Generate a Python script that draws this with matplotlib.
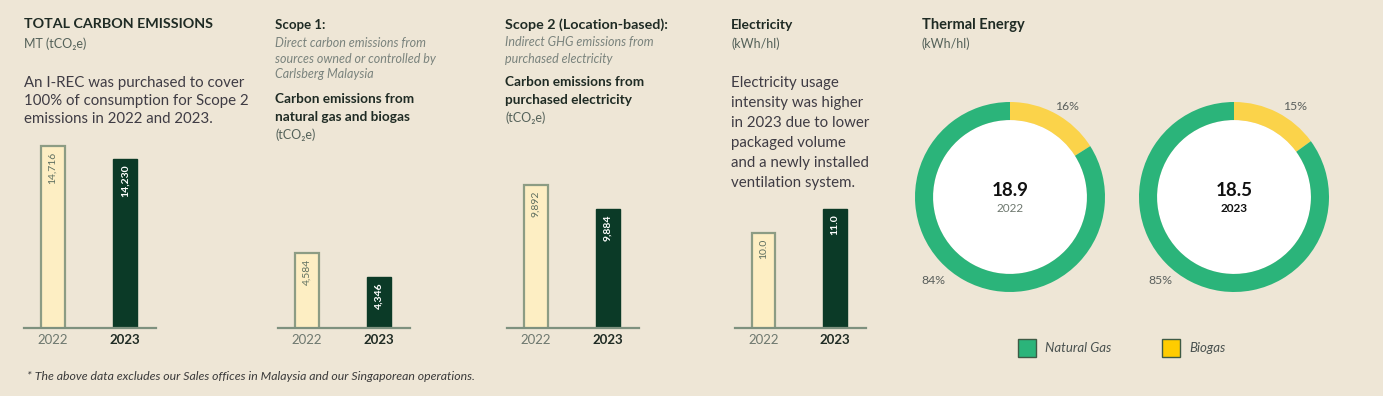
import matplotlib
matplotlib.use("Agg")
import matplotlib.pyplot as plt
from matplotlib.patches import Rectangle, Circle

plt.rcParams['font.family'] = ['Lato', 'DejaVu Sans']

W, H = 1390, 396
BG = '#EEE6D6'

# ---------------- data ----------------
years = ['2022', '2023']
total_emissions = [14716, 14230]
scope1_emissions = [4584, 4346]
scope2_emissions = [9892, 9884]
electricity_intensity = [10.0, 11.0]
total_labels = ['14,716', '14,230']
scope1_labels = ['4,584', '4,346']
scope2_labels = ['9,892', '9,884']
elec_labels = ['10.0', '11.0']

thermal_values = [18.9, 18.5]
thermal_years = ['2022', '2023']
biogas_share = [16, 15]
natural_gas_share = [84, 85]
fuel_names = ['Natural Gas', 'Biogas']

# ---------------- style ----------------
C_LIGHT = '#FDEEC3'
C_LIGHT_EDGE = '#8C9C84'
C_DARK = '#0B3A27'
C_BASE = '#7E917F'
C_GREEN = '#2BB47A'
C_YELLOW = '#FBD34A'
C_HEAD = '#1F2B24'
C_SUB = '#55625A'
C_BODY = '#3F3C44'
C_ITAL = '#7A837D'
C_YEAR = '#6E786F'

fig = plt.figure(figsize=(W / 100, H / 100), dpi=100)
fig.patch.set_facecolor(BG)


def fx(x):
    return x / W


def fy(y):
    return 1 - y / H


def txt(x, y, s, size=9, color=C_BODY, weight='normal', style='normal', ha='left'):
    fig.text(fx(x), fy(y), s, fontsize=size, color=color, weight=weight,
             style=style, ha=ha, va='center')


# ---------------- bar panels ----------------
def bar_panel(x0, x1, values, labels, ylim):
    base_y, top_y = 328, 140
    ax = fig.add_axes([fx(x0), fy(base_y), fx(x1) - fx(x0), (base_y - top_y) / H])
    ax.set_facecolor('none')
    pos = [0, 1]
    ax.bar(pos[0], values[0], width=0.33, color=C_LIGHT, edgecolor=C_LIGHT_EDGE,
           linewidth=1.6, zorder=2)
    ax.bar(pos[1], values[1], width=0.33, color=C_DARK, edgecolor=C_DARK,
           linewidth=1.0, zorder=2)
    ax.set_xlim(-0.4, 1.43)
    ax.set_ylim(*ylim)
    for s in ['top', 'right', 'left']:
        ax.spines[s].set_visible(False)
    ax.spines['bottom'].set_color(C_BASE)
    ax.spines['bottom'].set_linewidth(1.6)
    ax.spines['bottom'].set_zorder(3)
    ax.set_yticks([])
    ax.set_xticks(pos)
    ax.set_xticklabels(years)
    ax.tick_params(axis='x', length=0, pad=4, labelsize=9.5)
    tl = ax.get_xticklabels()
    tl[0].set_color(C_YEAR)
    tl[1].set_color(C_HEAD)
    tl[1].set_fontweight('bold')
    span = ylim[1] - ylim[0]
    ax.text(pos[0], values[0] - span * 0.03, labels[0], rotation=90, ha='center',
            va='top', fontsize=7.5, color='#5E6F60', zorder=4)
    ax.text(pos[1], values[1] - span * 0.03, labels[1], rotation=90, ha='center',
            va='top', fontsize=7.5, color='white', weight='bold', zorder=4)
    return ax


bar_panel(24, 156, total_emissions, total_labels, (7898, 14941))
bar_panel(278, 410, scope1_emissions, scope1_labels, (3842, 5701))
bar_panel(507, 639, scope2_emissions, scope2_labels, (9844.4, 9907.0))
bar_panel(735, 866, electricity_intensity, elec_labels, (6.05, 13.86))

# ---------------- text blocks ----------------
txt(24, 24, 'TOTAL CARBON EMISSIONS', 10.3, C_HEAD, 'bold')
txt(24, 44, 'MT (tCO₂e)', 9, C_SUB)
txt(24, 83, 'An I-REC was purchased to cover', 10.8, C_BODY)
txt(24, 101, '100% of consumption for Scope 2', 10.8, C_BODY)
txt(24, 119, 'emissions in 2022 and 2023.', 10.8, C_BODY)

txt(275, 25, 'Scope 1:', 9.5, C_HEAD, 'bold')
txt(275, 43, 'Direct carbon emissions from', 9, C_ITAL, style='italic')
txt(275, 59, 'sources owned or controlled by', 9, C_ITAL, style='italic')
txt(275, 74, 'Carlsberg Malaysia', 9, C_ITAL, style='italic')
txt(275, 99, 'Carbon emissions from', 9.8, C_HEAD, 'bold')
txt(275, 117, 'natural gas and biogas', 9.8, C_HEAD, 'bold')
txt(275, 135, '(tCO₂e)', 9, C_SUB)

txt(505, 25, 'Scope 2 (Location-based):', 10.3, C_HEAD, 'bold')
txt(505, 42, 'Indirect GHG emissions from', 9, C_ITAL, style='italic')
txt(505, 59, 'purchased electricity', 9, C_ITAL, style='italic')
txt(505, 82, 'Carbon emissions from', 9.8, C_HEAD, 'bold')
txt(505, 100, 'purchased electricity', 9.8, C_HEAD, 'bold')
txt(505, 118, '(tCO₂e)', 9, C_SUB)

txt(731, 25, 'Electricity', 10, C_HEAD, 'bold')
txt(731, 44, '(kWh/hl)', 9, C_SUB)
para = ['Electricity usage', 'intensity was higher', 'in 2023 due to lower',
        'packaged volume', 'and a newly installed', 'ventilation system.']
for i, line in enumerate(para):
    txt(731, 83 + 20 * i, line, 10.8, C_BODY)

txt(922, 25, 'Thermal Energy', 10.5, C_HEAD, 'bold')
txt(922, 44, '(kWh/hl)', 9, C_SUB)

# ---------------- donuts ----------------
def donut(cx, cy, r, val, yr, bio, ng, bold_year, lbl_bio, lbl_ng):
    ax = fig.add_axes([fx(cx - r), fy(cy + r), 2 * r / W, 2 * r / H])
    ax.pie([bio, ng], colors=[C_YELLOW, C_GREEN], startangle=90, counterclock=False,
           radius=1.0, wedgeprops=dict(width=0.19, edgecolor='none'))
    ax.add_patch(Circle((0, 0), 0.81, facecolor='white', edgecolor='none', zorder=0))
    ax.set_xlim(-1, 1)
    ax.set_ylim(-1, 1)
    ax.set_aspect('equal')
    ax.axis('off')
    txt(cx, cy - 7, f'{val}', 13.5, '#111111', 'bold', ha='center')
    txt(cx, cy + 11, yr, 8.5, '#111111' if bold_year else C_YEAR,
        'bold' if bold_year else 'normal', ha='center')
    txt(lbl_bio[0], lbl_bio[1], f'{bio}%', 8.8, '#5A5F5C', ha='center')
    txt(lbl_ng[0], lbl_ng[1], f'{ng}%', 8.8, '#5A5F5C', ha='center')


donut(1010, 197, 95, thermal_values[0], thermal_years[0], biogas_share[0],
      natural_gas_share[0], False, (1067, 107), (933, 280))
donut(1234, 197, 95, thermal_values[1], thermal_years[1], biogas_share[1],
      natural_gas_share[1], True, (1295, 107), (1160, 281))

# ---------------- legend ----------------
for (sx, col, name) in [(1018, C_GREEN, fuel_names[0]), (1162, '#FFCC00', fuel_names[1])]:
    fig.patches.append(Rectangle((fx(sx), fy(357)), 18 / W, 18 / H,
                                 transform=fig.transFigure, facecolor=col,
                                 edgecolor='#3E5A45', linewidth=1.0))
    txt(sx + 27, 348, name, 9.5, '#4A5250', style='italic')

# ---------------- footnote ----------------
txt(27, 376, '* The above data excludes our Sales offices in Malaysia and our Singaporean operations.',
    8.8, '#3A3A3A', style='italic')

# right edge strip
fig.patches.append(Rectangle((fx(1383), 0), 7 / W, 1, transform=fig.transFigure,
                             facecolor='white', edgecolor='none'))

fig.savefig('out.png', dpi=100, facecolor=fig.get_facecolor())
